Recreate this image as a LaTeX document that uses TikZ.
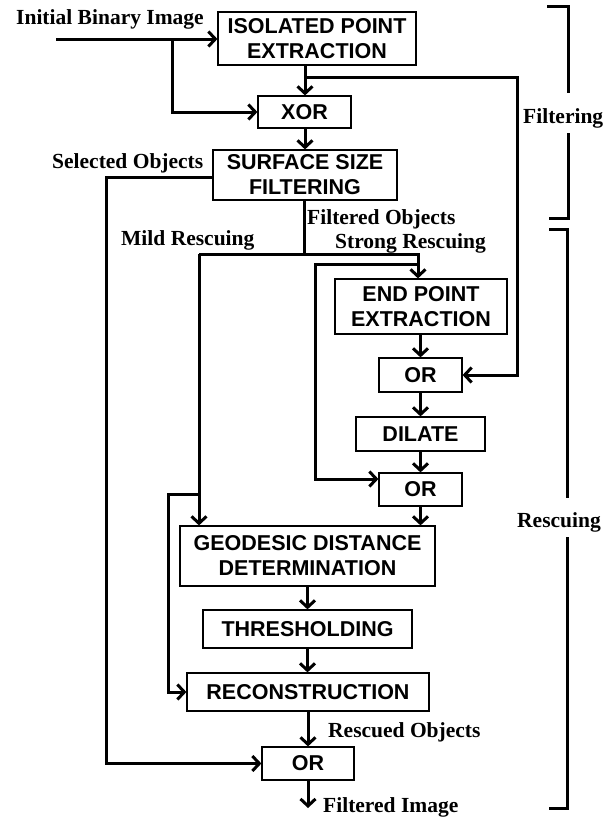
\documentclass[tikz,border=0pt]{standalone}
\usepackage{fontspec}
\setmainfont{Liberation Serif}
\setsansfont{Liberation Sans}
\usepackage{tikz}
\usetikzlibrary{arrows.meta}

\tikzset{
  blk/.style={draw, line width=1.2pt, inner sep=0pt, align=center,
    font=\sffamily\bfseries\fontsize{21.5}{25}\selectfont},
  flow/.style={line width=3pt, -{Straight Barb[length=7pt,width=15pt]}},
  wire/.style={line width=3pt},
  lbl/.style={inner sep=0pt, font=\rmfamily\bfseries\fontsize{21.5}{25}\selectfont},
}

\begin{document}
\begin{tikzpicture}[x = 1pt, y = -1pt]
\useasboundingbox (0,0) rectangle (616,817);

\node [blk, minimum width=198pt, minimum height=53pt] (iso) at (317,38.5) {ISOLATED POINT\\EXTRACTION};
\node [blk, minimum width=93pt, minimum height=32pt] (xor) at (304.5,112) {XOR};
\node [blk, minimum width=184pt, minimum height=50pt] (surf) at (305,175) {SURFACE SIZE\\FILTERING};
\node [blk, minimum width=172pt, minimum height=55pt] (endp) at (421,306.5) {END POINT\\EXTRACTION};
\node [blk, minimum width=83pt, minimum height=34pt] (or1) at (420.5,375) {OR};
\node [blk, minimum width=129pt, minimum height=34pt] (dil) at (420.5,434) {DILATE};
\node [blk, minimum width=83pt, minimum height=33pt] (or2) at (420.5,489.5) {OR};
\node [blk, minimum width=255pt, minimum height=60pt] (geo) at (307.5,556) {GEODESIC DISTANCE\\DETERMINATION};
\node [blk, minimum width=209pt, minimum height=38pt] (thr) at (307.5,629) {THRESHOLDING};
\node [blk, minimum width=242pt, minimum height=38pt] (rec) at (308,692) {RECONSTRUCTION};
\node [blk, minimum width=92pt, minimum height=33pt] (or3) at (308,763.5) {OR};

\coordinate (src) at (56,39);
\coordinate (tapA) at (172,39);
\coordinate (tapB) at (305,77);
\coordinate (loopR) at (517,77);
\coordinate (selL) at (106,177);
\coordinate (split) at (304,254);
\coordinate (mild) at (199,254);
\coordinate (strong) at (418,264);
\coordinate (strL) at (315,264);
\coordinate (strB) at (315,479);
\coordinate (mildR) at (199,494);
\coordinate (mildL) at (168,494);
\coordinate (sink) at (308,808);

\draw [flow] (src) -- (src -| iso.west);
\draw [flow] (tapA) |- (xor);
\draw [flow] (iso.south -| tapB) -- (xor.north -| tapB);
\draw [flow] (tapB) -- (loopR) |- (or1);
\draw [flow] (xor.south -| tapB) -- (surf.north -| tapB);
\draw [flow] (surf.west |- selL) -- (selL) |- (or3);
\draw [wire] (surf.south -| split) -- (split);
\draw [flow] (mild) -| (endp.north -| strong);
\draw [flow] (mild) -- (mild |- geo.north);
\draw [flow] (strong) -- (strL) -- (strB) -- (strB -| or2.west);
\draw [flow] (mildR) -- (mildL) |- (rec);
\draw [flow] (endp.south -| or1) -- (or1);
\draw [flow] (or1) -- (dil);
\draw [flow] (dil) -- (or2);
\draw [flow] (or2.south) -- (or2.south |- geo.north);
\draw [flow] (geo) -- (thr);
\draw [flow] (thr.south) -- (thr.south |- rec.north);
\draw [flow] (rec.south) -- (rec.south |- or3.north);
\draw [flow] (or3.south) -- (or3.south |- sink);

\node [lbl, anchor=base west] (inlbl) at (16,24) {Initial Binary Image};
\node [lbl, anchor=base west] (sellbl) at (52,168) {Selected Objects};
\node [lbl, anchor=base west] (fobj) at (307,224) {Filtered Objects};
\node [lbl, anchor=base west] (strlbl) at (335,248) {Strong Rescuing};
\node [lbl, anchor=base west] (mildlbl) at (121,245) {Mild Rescuing};
\node [lbl, anchor=base west] (reslbl) at (328,737) {Rescued Objects};
\node [lbl, anchor=base west] (outlbl) at (323,812) {Filtered Image};
\node [lbl, anchor=base west] (filt) at (523,123) {Filtering};
\node [lbl, anchor=base west] (resc) at (517,527) {Rescuing};

\draw [wire] (547,6) -- (568,6) -- (568,93);
\draw [wire] (568,133) -- (568,218) -- (549,218);
\draw [wire] (549,229) -- (567,229) -- (567,498);
\draw [wire] (567,537) -- (567,808) -- (549,808);
\end{tikzpicture}
\end{document}
